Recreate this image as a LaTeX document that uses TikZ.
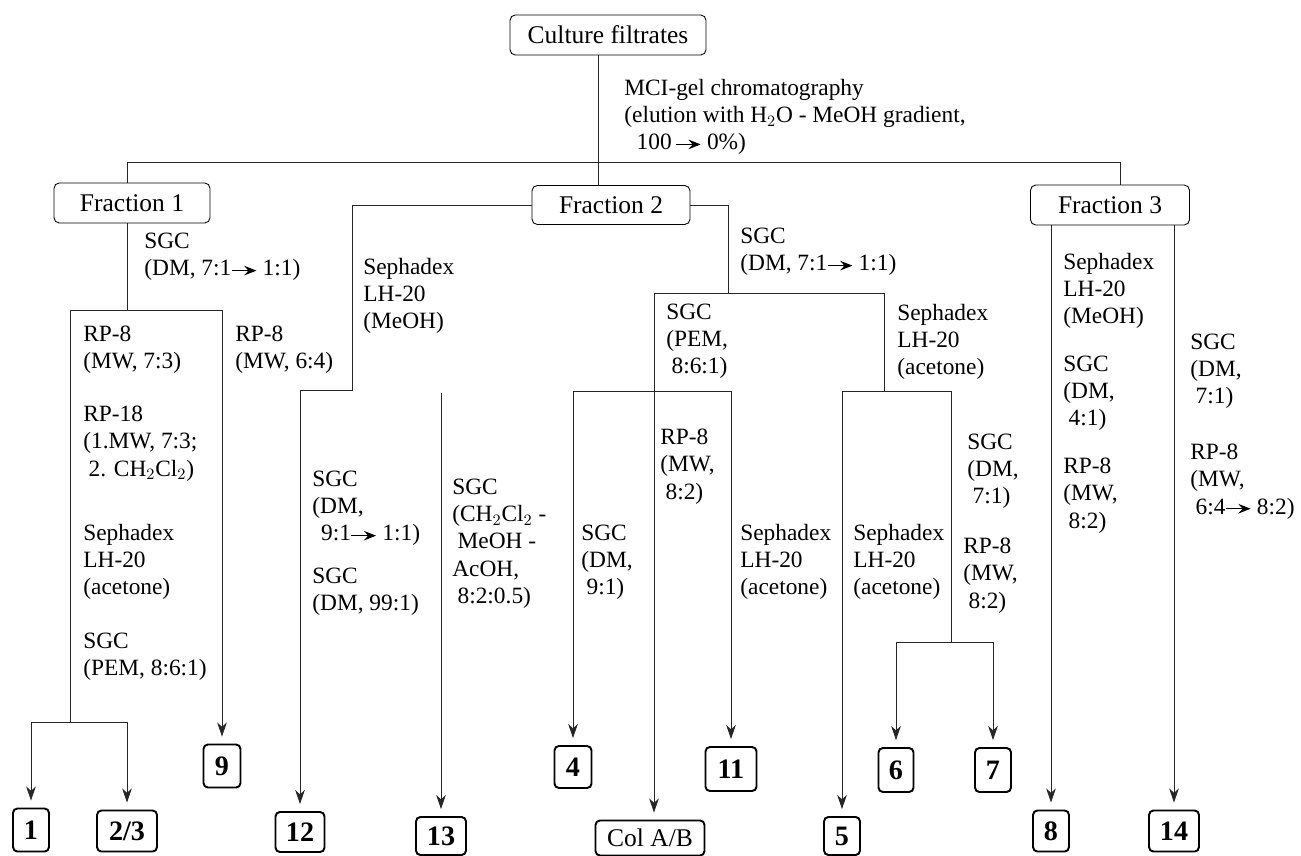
\documentclass[tikz,border=0pt]{standalone}
\usepackage{fontspec}
\setmainfont{Liberation Serif}
\usetikzlibrary{arrows.meta}

% pfeil im text (gradient)
\newcommand{\grad}{\tikz[baseline=-3pt]\draw[line width=0.55pt,-{Stealth[length=7pt,width=5.5pt,inset=2.5pt]}] (0pt,0pt) -- (14pt,0pt);}

\begin{document}
\begin{tikzpicture}[x=0.02cm, y=-0.02cm,
    flow/.style={line width=0.45pt, draw=black!85},
    toarr/.style={flow, shorten >=4pt, -{Stealth[length=8pt,width=5.5pt,inset=2.5pt]}},
    frac/.style={draw, line width=0.5pt, rounded corners=3pt, inner sep=0pt, font=\fontsize{14.5}{17}\selectfont},
    cmpd/.style={draw, line width=1.1pt, rounded corners=2.5pt, inner sep=0pt, font=\fontsize{16}{18}\selectfont\bfseries},
    lbl/.style={anchor=north west, align=left, inner sep=0pt, font=\fontsize{13.3}{15.4}\selectfont}]
    \useasboundingbox (0,0) rectangle (1301,855);

    % boxes
    \node[frac, minimum width=3.92cm, minimum height=0.8cm] (culture) at (608,35) {Culture filtrates};
    \node[frac, minimum width=3.12cm, minimum height=0.8cm] (frac1) at (132,203) {Fraction 1};
    \node[frac, minimum width=3.16cm, minimum height=0.78cm] (frac2) at (611,205) {Fraction 2};
    \node[frac, minimum width=3.18cm, minimum height=0.8cm] (frac3) at (1110,205) {Fraction 3};

    \node[cmpd, minimum width=0.72cm, minimum height=0.86cm] (c1) at (31,830) {1};
    \node[cmpd, minimum width=1.2cm, minimum height=0.82cm] (c23) at (127,831) {2/3};
    \node[cmpd, minimum width=0.74cm, minimum height=0.86cm] (c9) at (222,766) {9};
    \node[cmpd, minimum width=0.98cm, minimum height=0.8cm] (c12) at (300,832) {12};
    \node[cmpd, minimum width=1.0cm, minimum height=0.76cm] (c13) at (441,836) {13};
    \node[cmpd, minimum width=0.74cm, minimum height=0.84cm] (c4) at (573,767) {4};
    \node[cmpd, minimum width=2.18cm, minimum height=0.7cm, font=\fontsize{14.5}{17}\selectfont] (cAB) at (650,838) {Col A/B};
    \node[cmpd, minimum width=1.02cm, minimum height=0.88cm] (c11) at (731,769) {11};
    \node[cmpd, minimum width=0.72cm, minimum height=0.76cm] (c5) at (842,836) {5};
    \node[cmpd, minimum width=0.7cm, minimum height=0.88cm] (c6) at (896,770) {6};
    \node[cmpd, minimum width=0.72cm, minimum height=0.88cm] (c7) at (993,770) {7};
    \node[cmpd, minimum width=0.72cm, minimum height=0.82cm] (c8) at (1051,831) {8};
    \node[cmpd, minimum width=1.0cm, minimum height=0.82cm] (c14) at (1174,831) {14};

    % MCI-gel
    \coordinate (trunk) at (598,162);
    \coordinate (hL) at (127,162);
    \coordinate (hR) at (1120,162);
    \draw[flow] (trunk |- culture.south) -- (trunk |- frac2.north);
    \draw[flow] (hL |- frac1.north) -- (hL) -- (hR) -- (hR |- frac3.north);
    \node[lbl] (mci) at (624,79) {MCI-gel chromatography\\(elution with H$_2$O - MeOH gradient,\\\hspace{7pt}100\,\grad\ 0\%)};

    % Fraction 1
    \coordinate (f1s) at (127,310);
    \coordinate (f1L) at (70,310);
    \coordinate (f1R) at (222,310);
    \coordinate (f1b) at (70,722);
    \coordinate (s1) at (31,722);
    \coordinate (s23) at (127,722);
    \draw[flow] (frac1.south -| f1s) -- (f1s);
    \draw[flow] (f1L) -- (f1R);
    \draw[flow] (f1L) -- (f1b);
    \draw[flow] (s1) -- (s23);
    \draw[toarr] (s1) -- (c1.north);
    \draw[toarr] (s23) -- (c23.north);
    \draw[toarr] (f1R) -- (c9.north);
    \node[lbl] (f1sgc) at (144,233) {SGC\\(DM, 7:1\grad\ 1:1)};
    \node[lbl] (f1a) at (83,326) {RP-8\\(MW, 7:3)};
    \node[lbl] (f1b) at (83,406) {RP-18\\(1.MW, 7:3;\\\hspace{3pt}2. CH$_2$Cl$_2$)};
    \node[lbl] (f1c) at (83,524) {Sephadex\\LH-20\\(acetone)};
    \node[lbl] (f1d) at (83,633) {SGC\\(PEM, 8:6:1)};
    \node[lbl] (f1e) at (235,326) {RP-8\\(MW, 6:4)};

    % Fraction 2, links
    \coordinate (f2L) at (352,390);
    \coordinate (s12) at (300,390);
    \coordinate (s13) at (441,393);
    \draw[flow] (frac2.west) -- (frac2.west -| f2L) -- (f2L) -- (s12);
    \draw[toarr] (s12) -- (c12.north);
    \draw[toarr] (s13) -- (c13.north);
    \node[lbl] (f2seph) at (363,258) {Sephadex\\LH-20\\(MeOH)};
    \node[lbl] (f2a) at (312,471) {SGC\\(DM,\\\hspace{5pt}9:1\grad\ 1:1)};
    \node[lbl] (f2b) at (312,568) {SGC\\(DM, 99:1)};
    \node[lbl] (f2c) at (452,479) {SGC\\(CH$_2$Cl$_2$ -\\\hspace{3pt}MeOH -\\AcOH,\\\hspace{3pt}8:2:0.5)};

    % Fraction 2, rechts
    \coordinate (f2R) at (728,293);
    \coordinate (gL) at (654,293);
    \coordinate (gR) at (884,293);
    \coordinate (s4) at (573,391);
    \coordinate (s11) at (731,391);
    \coordinate (s5) at (842,391);
    \coordinate (s67) at (951,391);
    \coordinate (t67) at (951,642);
    \coordinate (s6) at (896,642);
    \coordinate (s7) at (993,642);
    \draw[flow] (frac2.east) -- (frac2.east -| f2R) -- (f2R);
    \draw[flow] (gL) -- (gR);
    \draw[flow] (s4) -- (s11);
    \draw[flow] (gR) -- (gR |- s5);
    \draw[flow] (s5) -- (s67) -- (t67);
    \draw[flow] (s6) -- (s7);
    \draw[toarr] (gL) -- (gL |- cAB.north);
    \draw[toarr] (s4) -- (c4.north);
    \draw[toarr] (s11) -- (c11.north);
    \draw[toarr] (s5) -- (c5.north);
    \draw[toarr] (s6) -- (c6.north);
    \draw[toarr] (s7) -- (c7.north);
    \node[lbl] (f2d) at (740,228) {SGC\\(DM, 7:1\grad\ 1:1)};
    \node[lbl] (f2e) at (666,304) {SGC\\(PEM,\\\hspace{3pt}8:6:1)};
    \node[lbl] (f2f) at (581,525) {SGC\\(DM,\\\hspace{3pt}9:1)};
    \node[lbl] (f2g) at (660,429) {RP-8\\(MW,\\\hspace{3pt}8:2)};
    \node[lbl] (f2h) at (740,524) {Sephadex\\LH-20\\(acetone)};
    \node[lbl] (f2i) at (897,304) {Sephadex\\LH-20\\(acetone)};
    \node[lbl] (f2j) at (853,524) {Sephadex\\LH-20\\(acetone)};
    \node[lbl] (f2k) at (967,434) {SGC\\(DM,\\\hspace{3pt}7:1)};
    \node[lbl] (f2l) at (963,538) {RP-8\\(MW,\\\hspace{3pt}8:2)};

    % Fraction 3
    \draw[toarr] (frac3.south -| c8) -- (c8.north);
    \draw[toarr] (frac3.south -| c14) -- (c14.north);
    \node[lbl] (f3a) at (1063,253) {Sephadex\\LH-20\\(MeOH)};
    \node[lbl] (f3b) at (1063,356) {SGC\\(DM,\\\hspace{3pt}4:1)};
    \node[lbl] (f3c) at (1063,458) {RP-8\\(MW,\\\hspace{3pt}8:2)};
    \node[lbl] (f3d) at (1190,334) {SGC\\(DM,\\\hspace{3pt}7:1)};
    \node[lbl] (f3e) at (1190,444) {RP-8\\(MW,\\\hspace{3pt}6:4\grad\ 8:2)};
\end{tikzpicture}
\end{document}
